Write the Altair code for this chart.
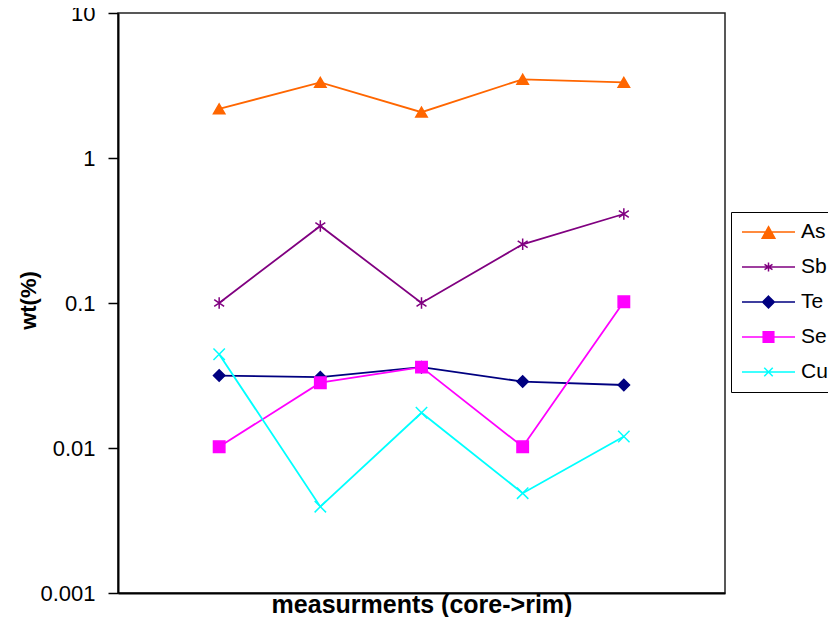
import altair as alt
import pandas as pd

# ---- data ----
elements = ["As", "Sb", "Te", "Se", "Cu"]
colors = ["#FF6600", "#800080", "#000080", "#FF00FF", "#00FFFF"]
measurements = [1, 2, 3, 4, 5]
as_wt = [2.18, 3.32, 2.07, 3.49, 3.32]
sb_wt = [0.100, 0.340, 0.100, 0.254, 0.411]
te_wt = [0.0316, 0.0308, 0.0361, 0.0287, 0.0272]
se_wt = [0.0102, 0.0282, 0.0361, 0.0102, 0.102]
cu_wt = [0.0443, 0.00394, 0.0175, 0.00488, 0.0120]
y_ticks = [0.001, 0.01, 0.1, 1, 10]

# marker shapes (plot) and legend shapes (line through marker)
asterisk = "M0,-1L0,1M-0.87,-0.6L0.87,0.6M-0.87,0.6L0.87,-0.6"
xmark = "M-1,-1L1,1M-1,1L1,-1"
marker_shapes = ["triangle-up", asterisk, "diamond", "square", xmark]
legend_shapes = [
    "M-1,0L1,0M0,-0.2L0.24,0.24L-0.24,0.24Z",
    "M-1,0L1,0M0,-0.17L0,0.17M-0.15,-0.1L0.15,0.1M-0.15,0.1L0.15,-0.1",
    "M-1,0L1,0M0,-0.22L0.22,0L0,0.22L-0.22,0Z",
    "M-1,0L1,0M-0.2,-0.2L0.2,-0.2L0.2,0.2L-0.2,0.2Z",
    "M-1,0L1,0M-0.16,-0.16L0.16,0.16M-0.16,0.16L0.16,-0.16",
]

rows = []
for el, series in zip(elements, [as_wt, sb_wt, te_wt, se_wt, cu_wt]):
    for m, v in zip(measurements, series):
        rows.append({"element": el, "measurement": m, "wt": v})
df = pd.DataFrame(rows)

FONT = "Liberation Sans"

x = alt.X(
    "measurement:Q",
    scale=alt.Scale(domain=[0, 6], nice=False, zero=False),
    axis=alt.Axis(
        title="measurments (core->rim)", labels=False, ticks=False, grid=False,
        domainColor="black", domainWidth=2,
        titleFont=FONT, titleFontSize=25, titleFontWeight="bold", titleColor="black",
        titleY=19, titleBaseline="alphabetic",
    ),
)
y = alt.Y(
    "wt:Q",
    scale=alt.Scale(type="log", domain=[0.001, 10], nice=False),
    axis=alt.Axis(
        title="wt(%)", values=y_ticks, format="~g", grid=False,
        tickSize=10, tickColor="black", tickWidth=1.5,
        domainColor="black", domainWidth=2,
        labelFont=FONT, labelFontSize=22, labelColor="black", labelPadding=13,
        titleFont=FONT, titleFontSize=22, titleFontWeight="bold", titleColor="black",
        titleX=-90, titleY=287, titleAngle=270, titleAlign="center", titleBaseline="middle",
    ),
)

color_scale = alt.Scale(domain=elements, range=colors)

lines = alt.Chart(df).mark_line(strokeWidth=1.8).encode(
    x=x, y=y,
    color=alt.Color("element:N", scale=color_scale, legend=None, sort=elements),
)

points = alt.Chart(df).mark_point(filled=True, opacity=1, size=130, strokeWidth=1.5).encode(
    x=x, y=y,
    color=alt.Color("element:N", scale=color_scale, legend=None),
    stroke=alt.Stroke("element:N", scale=color_scale, legend=None),
    shape=alt.Shape("element:N", scale=alt.Scale(domain=elements, range=marker_shapes), legend=None),
)

leg = dict(
    title=None, orient="none", legendX=613, legendY=199,
    strokeColor="black", fillColor="white", padding=8,
    symbolSize=2809, symbolStrokeWidth=1.5, symbolOffset=2,
    labelFont=FONT, labelFontSize=21, labelColor="black", labelOffset=5,
    clipHeight=24, rowPadding=11,
)

legend_layer = alt.Chart(df).transform_filter("false").mark_point(
    filled=True, opacity=1, strokeWidth=1.5
).encode(
    x=x, y=y,
    color=alt.Color("element:N", scale=color_scale, legend=alt.Legend(**leg)),
    stroke=alt.Stroke("element:N", scale=color_scale, legend=alt.Legend(**leg)),
    shape=alt.Shape("element:N", scale=alt.Scale(domain=elements, range=legend_shapes),
                    legend=alt.Legend(**leg)),
)

chart = (
    alt.layer(lines, points, legend_layer)
    .resolve_scale(shape="independent", color="independent", stroke="independent")
    .properties(
        width=607, height=580,
        autosize=alt.AutoSizeParams(type="none"),
        padding={"left": 110, "top": 5, "right": 103, "bottom": 24},
        background="white",
    )
    .configure_view(stroke="#222222", strokeWidth=1.5)
)

chart.save("out.html", embed_options={"renderer": "svg", "actions": False})
